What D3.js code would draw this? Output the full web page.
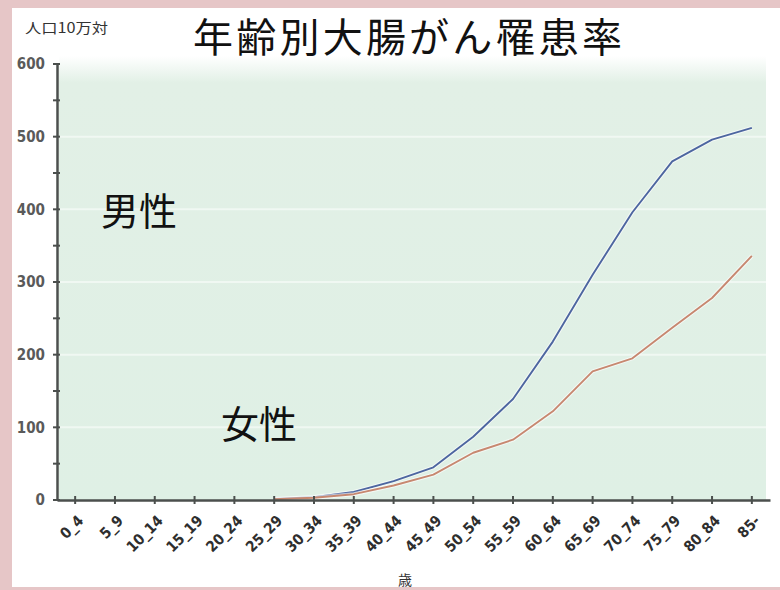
<!DOCTYPE html>
<html>
<head>
<meta charset="utf-8">
<script src="https://cdn.jsdelivr.net/npm/d3@7"></script>
<style>
  html, body { margin: 0; padding: 0; background: #e6c6c7; }
  svg { display: block; }
</style>
</head>
<body>
<svg id="chart" width="780" height="590"></svg>
<script>
// 年齢階級（5歳刻み）
const ageGroups = ["0_4","5_9","10_14","15_19","20_24","25_29","30_34","35_39","40_44",
                   "45_49","50_54","55_59","60_64","65_69","70_74","75_79","80_84","85-"];

// 人口10万対の罹患率（25歳以上のみ値がある）
const maleRates   = [null,null,null,null,null,1.5,4,11,26,45,87,139,218,310,396,466,496,512];
const femaleRates = [null,null,null,null,null,1,3,8,20,35,65,83,122,177,195,237,278,336];

const yTicks = [0,100,200,300,400,500,600];
const yMinorTicks = [50,150,250,350,450,550];

const svg = d3.select("#chart");
const W = 780, H = 590;

// 外枠（ピンク）と白いパネル
svg.append("rect").attr("x",0).attr("y",0).attr("width",W).attr("height",H).attr("fill","#e6c6c7");
svg.append("rect").attr("x",12).attr("y",8).attr("width",W-12).attr("height",579).attr("fill","#ffffff");

const plot = {left:57, right:770, top:64, bottom:500};

const x = d3.scalePoint().domain(ageGroups).range([plot.left, plot.right]).padding(0.456);
const y = d3.scaleLinear().domain([0,600]).range([plot.bottom, plot.top]);

// プロット領域の背景（上端は白からのグラデーション）
const defs = svg.append("defs");
const grad = defs.append("linearGradient").attr("id","bg").attr("x1",0).attr("y1",0).attr("x2",0).attr("y2",1);
grad.append("stop").attr("offset","0").attr("stop-color","#ffffff");
grad.append("stop").attr("offset","0.06").attr("stop-color","#e2f0e6");
grad.append("stop").attr("offset","1").attr("stop-color","#dff0e5");
svg.append("rect")
  .attr("x", plot.left + 2).attr("y", plot.top - 8)
  .attr("width", 766 - plot.left - 2).attr("height", plot.bottom - plot.top + 8)
  .attr("fill","url(#bg)");

// 目盛線（淡い白）
svg.append("g").selectAll("line").data(yTicks.slice(1,-1)).join("line")
  .attr("x1", plot.left + 2).attr("x2", 766)
  .attr("y1", d => y(d)).attr("y2", d => y(d))
  .attr("stroke","#ffffff").attr("stroke-opacity",0.5).attr("stroke-width",2);

// 折れ線
const line = d3.line()
  .defined(d => d.v != null)
  .x(d => x(d.k))
  .y(d => y(d.v));

const series = [
  {name:"男性", values: maleRates,   color:"#4d66a0"},
  {name:"女性", values: femaleRates, color:"#c78870"}
];
series.forEach(s => {
  const pts = ageGroups.map((k,i) => ({k, v: s.values[i]}));
  svg.append("path").datum(pts)
    .attr("fill","none").attr("stroke","#ffffff").attr("stroke-opacity",0.6)
    .attr("stroke-width",4).attr("d", line);
  svg.append("path").datum(pts)
    .attr("fill","none").attr("stroke", s.color)
    .attr("stroke-width",1.9).attr("stroke-linejoin","round").attr("d", line);
});

const axisColor = "#4b4f4d";
const numFont = "'Liberation Sans Narrow','DejaVu Sans Condensed',sans-serif";

// Y軸
const yAxis = d3.axisLeft(y).tickValues(yTicks).tickSize(0).tickPadding(12);
const gy = svg.append("g").attr("transform",`translate(${plot.left},0)`).call(yAxis);
gy.select(".domain").attr("stroke",axisColor).attr("stroke-width",2.5);
gy.selectAll("text").attr("font-family",numFont).attr("font-size",15).attr("font-weight","bold")
  .attr("fill","#5a5a5a");
svg.append("g").selectAll("line").data(yTicks.concat(yMinorTicks)).join("line")
  .attr("x1", plot.left - 4).attr("x2", plot.left + 3)
  .attr("y1", d => y(d)).attr("y2", d => y(d))
  .attr("stroke",axisColor).attr("stroke-width",2);

// X軸
const xAxis = d3.axisBottom(x).tickSize(0).tickSizeOuter(0);
const gx = svg.append("g").attr("transform",`translate(0,${plot.bottom})`).call(xAxis);
gx.select(".domain").attr("stroke",axisColor).attr("stroke-width",2.5);
gx.selectAll("text")
  .attr("font-family",numFont).attr("font-size",15).attr("font-weight","bold").attr("fill","#2e2e2e")
  .attr("text-anchor","end")
  .attr("transform","translate(5,18) rotate(-45)")
  .attr("dy","0.35em").attr("y",0);
svg.append("g").selectAll("line").data(ageGroups).join("line")
  .attr("x1", d => x(d)).attr("x2", d => x(d))
  .attr("y1", plot.bottom - 4).attr("y2", plot.bottom + 4)
  .attr("stroke",axisColor).attr("stroke-width",2);

const jp = "'Noto Sans CJK JP','Noto Sans CJK SC',sans-serif";

// 単位
svg.append("text").attr("x",25).attr("y",33)
  .attr("font-family",jp).attr("font-size",14).attr("fill","#333")
  .attr("textLength",83).attr("lengthAdjust","spacingAndGlyphs")
  .text("人口10万対");

// タイトル
svg.append("text").attr("x",193).attr("y",52)
  .attr("font-family",jp).attr("font-size",40).attr("fill","#111")
  .attr("textLength",429).attr("lengthAdjust","spacing")
  .text("年齢別大腸がん罹患率");

// 系列名
svg.append("text").attr("x",101).attr("y",225)
  .attr("font-family",jp).attr("font-size",38).attr("fill","#111").text(series[0].name);
svg.append("text").attr("x",221).attr("y",438)
  .attr("font-family",jp).attr("font-size",38).attr("fill","#111").text(series[1].name);

// X軸の単位
svg.append("text").attr("x",405).attr("y",585).attr("text-anchor","middle")
  .attr("font-family",jp).attr("font-size",14).attr("fill","#333").text("歳");
</script>
</body>
</html>
